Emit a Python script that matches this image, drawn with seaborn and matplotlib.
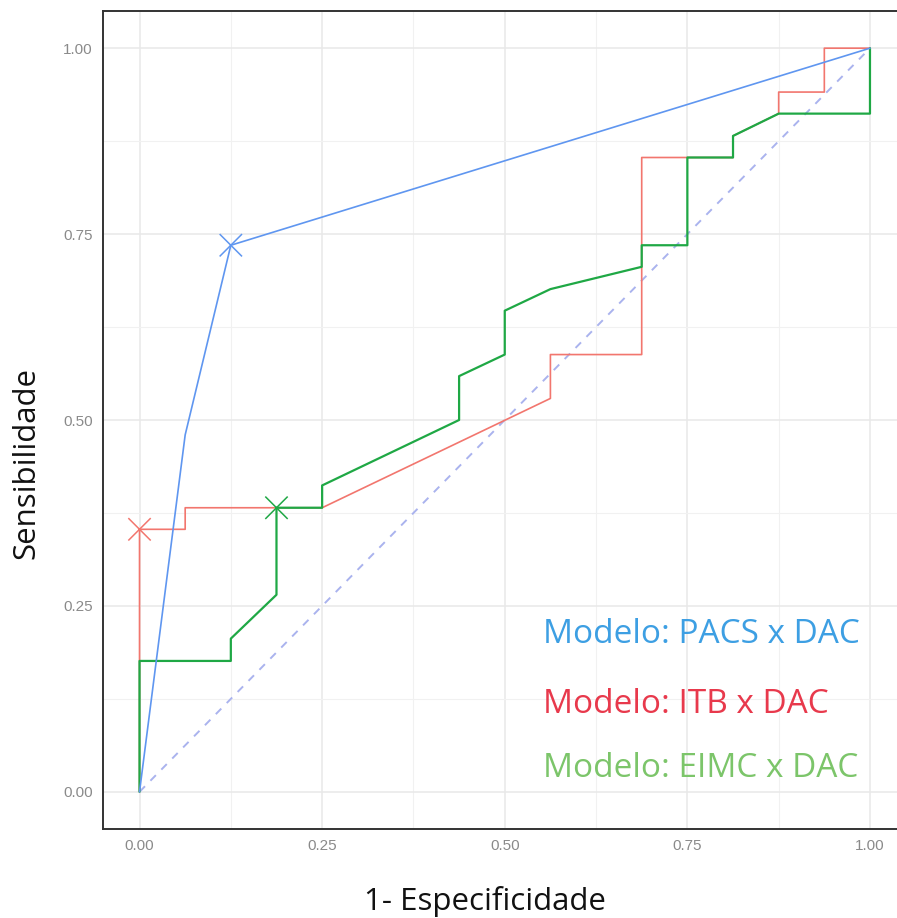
"""
ROC curves for three models vs DAC (PACS, ITB, EIMC),
with best cut-off marked by an x.
"""
import matplotlib.pyplot as plt
import matplotlib.ticker as mticker
import seaborn as sns
import pandas as pd

# 1 - especificidade / sensibilidade for each model
pacs_fpr = [0.0, 0.0625, 0.125, 1.0]
pacs_tpr = [0.0, 0.48, 0.735, 1.0]

itb_fpr = [0.0, 0.0, 0.0625, 0.0625, 0.25, 0.5625, 0.5625, 0.6875, 0.6875,
           0.8125, 0.8125, 0.875, 0.875, 0.9375, 0.9375, 1.0]
itb_tpr = [0.0, 0.353, 0.353, 0.382, 0.382, 0.529, 0.588, 0.588, 0.853,
           0.853, 0.882, 0.912, 0.941, 0.941, 1.0, 1.0]

eimc_fpr = [0.0, 0.0, 0.125, 0.125, 0.1875, 0.1875, 0.25, 0.25, 0.4375, 0.4375,
            0.5, 0.5, 0.5625, 0.6875, 0.6875, 0.75, 0.75, 0.8125, 0.8125, 0.875,
            1.0, 1.0]
eimc_tpr = [0.0, 0.176, 0.176, 0.206, 0.265, 0.382, 0.382, 0.412, 0.5, 0.559,
            0.588, 0.647, 0.676, 0.706, 0.735, 0.735, 0.853, 0.853, 0.882, 0.912,
            0.912, 1.0]

# best thresholds
best_model = ["PACS", "ITB", "EIMC"]
best_fpr = [0.125, 0.0, 0.1875]
best_tpr = [0.735, 0.353, 0.382]

ref_x = [0.0, 1.0]
ref_y = [0.0, 1.0]

labels = ["Modelo: PACS x DAC", "Modelo: ITB x DAC", "Modelo: EIMC x DAC"]

line_colors = {"PACS": "#5f96f0", "ITB": "#f2766e", "EIMC": "#1fa845"}
text_colors = ["#3d9fe3", "#e8394c", "#7cc56a"]

df = pd.concat([
    pd.DataFrame({"fpr": itb_fpr, "tpr": itb_tpr, "model": "ITB"}),
    pd.DataFrame({"fpr": eimc_fpr, "tpr": eimc_tpr, "model": "EIMC"}),
    pd.DataFrame({"fpr": pacs_fpr, "tpr": pacs_tpr, "model": "PACS"}),
], ignore_index=True)
best = pd.DataFrame({"fpr": best_fpr, "tpr": best_tpr, "model": best_model})

sns.set_style("white")

fig = plt.figure(figsize=(8.97, 9.18), dpi=100)
ax = fig.add_axes([103 / 897, 89 / 918, 803.5 / 897, 818 / 918])

ax.plot(ref_x, ref_y, color="#aab3ee", lw=1.4, dashes=(4, 4), zorder=2)

for m in ["ITB", "EIMC", "PACS"]:
    sub = df[df["model"] == m]
    sns.lineplot(data=sub, x="fpr", y="tpr", sort=False, estimator=None,
                 color=line_colors[m], lw=1.6 if m == "EIMC" else 1.2,
                 ax=ax, zorder=3)

sns.scatterplot(data=best, x="fpr", y="tpr", hue="model", palette=line_colors,
                marker="x", s=260, linewidth=1.1, legend=False, ax=ax, zorder=4)

ax.set_xlim(-0.05, 1.05)
ax.set_ylim(-0.05, 1.05)
ax.xaxis.set_major_locator(mticker.MultipleLocator(0.25))
ax.yaxis.set_major_locator(mticker.MultipleLocator(0.25))
ax.xaxis.set_minor_locator(mticker.MultipleLocator(0.125))
ax.yaxis.set_minor_locator(mticker.MultipleLocator(0.125))
ax.xaxis.set_major_formatter(mticker.FormatStrFormatter("%.2f"))
ax.yaxis.set_major_formatter(mticker.FormatStrFormatter("%.2f"))

ax.grid(which="major", color="#e8e8e8", lw=1.1, zorder=0)
ax.grid(which="minor", color="#f1f1f1", lw=0.8, zorder=0)
ax.set_axisbelow(True)

ax.tick_params(which="major", length=3.5, width=1, color="#333333",
               labelsize=11, labelcolor="#8a8a8a", pad=4)
ax.tick_params(which="minor", length=0)
for t in ax.get_xticklabels() + ax.get_yticklabels():
    t.set_family(["Liberation Sans", "DejaVu Sans"])

for sp in ax.spines.values():
    sp.set_color("#333333")
    sp.set_linewidth(1.4)

ax.set_xlabel("1- Especificidade", fontsize=22.5, family=["Open Sans", "DejaVu Sans"],
              color="#111111", va="baseline")
ax.xaxis.set_label_coords(0.475, -0.099)
ax.set_ylabel("Sensibilidade", fontsize=22.5, family=["Open Sans", "DejaVu Sans"],
              color="#111111", va="center")
ax.yaxis.set_label_coords(-0.095, 0.447)

text_y = [0.200, 0.106, 0.020]
for lab, yy, c in zip(labels, text_y, text_colors):
    ax.text(0.552, yy, lab, fontsize=24, color=c, family=["Open Sans", "DejaVu Sans"],
            ha="left", va="baseline")

fig.savefig("out.png", dpi=100)
